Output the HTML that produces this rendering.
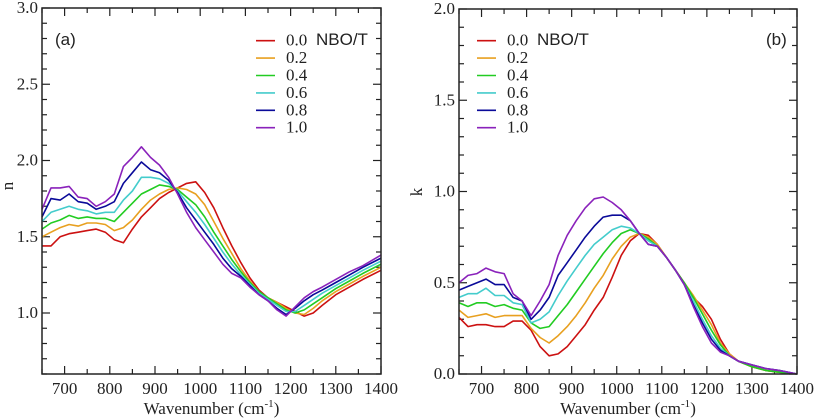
<!DOCTYPE html>
<html><head><meta charset="utf-8"><style>
html,body{margin:0;padding:0;background:#fff;}
svg{display:block;}
text.t{font-family:"Liberation Serif","Times New Roman",serif;font-size:17px;fill:#222;}
text.s{font-family:"Liberation Sans",Arial,sans-serif;font-size:17px;fill:#222;}
</style></head><body>
<svg id="c" width="816" height="420" viewBox="0 0 816 420"></svg>
<script>
const wn=[650,670,690,710,730,750,770,790,810,830,850,870,890,910,930,950,970,990,1010,1030,1050,1070,1090,1110,1130,1150,1170,1190,1210,1230,1250,1270,1300,1330,1360,1400];
const seriesLabels=["0.0","0.2","0.4","0.6","0.8","1.0"];
const colors=["#cc1111","#e8a020","#22cc22","#44cccc","#0a0a99","#8a22bb"];
const n00=[1.44,1.44,1.50,1.52,1.53,1.54,1.55,1.53,1.48,1.46,1.55,1.63,1.69,1.75,1.79,1.82,1.85,1.86,1.79,1.69,1.56,1.44,1.33,1.23,1.15,1.10,1.07,1.04,1.01,0.98,1.00,1.05,1.12,1.17,1.22,1.28];
const n02=[1.50,1.53,1.56,1.58,1.57,1.59,1.59,1.58,1.54,1.56,1.61,1.68,1.74,1.78,1.81,1.82,1.81,1.78,1.71,1.60,1.49,1.39,1.29,1.21,1.14,1.10,1.07,1.03,1.00,0.99,1.03,1.08,1.14,1.19,1.24,1.30];
const n04=[1.55,1.59,1.61,1.64,1.62,1.63,1.62,1.62,1.60,1.66,1.72,1.78,1.81,1.84,1.83,1.81,1.76,1.71,1.63,1.53,1.44,1.35,1.27,1.20,1.14,1.10,1.06,1.02,1.00,1.02,1.06,1.10,1.16,1.21,1.26,1.32];
const n06=[1.60,1.66,1.68,1.70,1.68,1.67,1.65,1.66,1.66,1.74,1.80,1.89,1.89,1.88,1.85,1.80,1.73,1.66,1.58,1.49,1.40,1.32,1.25,1.19,1.13,1.09,1.05,1.01,1.01,1.05,1.09,1.13,1.18,1.23,1.28,1.34];
const n08=[1.63,1.75,1.74,1.78,1.73,1.72,1.68,1.70,1.73,1.85,1.92,1.99,1.94,1.92,1.87,1.79,1.69,1.61,1.53,1.45,1.36,1.29,1.24,1.18,1.12,1.08,1.03,0.99,1.03,1.08,1.12,1.15,1.20,1.25,1.30,1.36];
const n10=[1.68,1.82,1.82,1.83,1.76,1.75,1.70,1.73,1.78,1.96,2.02,2.09,2.02,1.97,1.89,1.78,1.66,1.56,1.48,1.40,1.32,1.26,1.23,1.17,1.12,1.08,1.02,0.98,1.04,1.10,1.14,1.17,1.22,1.27,1.31,1.38];
const k00=[0.31,0.26,0.27,0.27,0.26,0.26,0.29,0.29,0.24,0.15,0.10,0.11,0.15,0.21,0.27,0.35,0.42,0.53,0.65,0.73,0.77,0.76,0.71,0.64,0.57,0.50,0.42,0.37,0.30,0.19,0.11,0.07,0.04,0.02,0.01,0.00];
const k02=[0.35,0.31,0.32,0.33,0.31,0.32,0.32,0.32,0.25,0.20,0.17,0.21,0.26,0.32,0.39,0.47,0.54,0.63,0.70,0.75,0.77,0.75,0.71,0.64,0.57,0.50,0.43,0.35,0.27,0.17,0.11,0.07,0.04,0.02,0.01,0.00];
const k04=[0.39,0.37,0.39,0.39,0.37,0.38,0.36,0.35,0.28,0.25,0.26,0.32,0.38,0.45,0.52,0.59,0.66,0.72,0.77,0.79,0.77,0.74,0.70,0.64,0.57,0.50,0.42,0.33,0.24,0.16,0.10,0.07,0.04,0.02,0.01,0.00];
const k06=[0.42,0.44,0.44,0.47,0.43,0.43,0.39,0.38,0.28,0.30,0.34,0.43,0.51,0.58,0.65,0.71,0.75,0.79,0.81,0.80,0.77,0.73,0.70,0.64,0.57,0.49,0.40,0.30,0.21,0.14,0.10,0.07,0.05,0.03,0.02,0.00];
const k08=[0.46,0.48,0.50,0.52,0.49,0.49,0.42,0.40,0.30,0.35,0.42,0.54,0.61,0.68,0.75,0.81,0.86,0.87,0.87,0.84,0.77,0.71,0.70,0.64,0.57,0.49,0.38,0.28,0.19,0.13,0.10,0.07,0.05,0.03,0.02,0.00];
const k10=[0.50,0.54,0.55,0.58,0.56,0.55,0.44,0.40,0.32,0.40,0.49,0.65,0.76,0.84,0.91,0.96,0.97,0.94,0.90,0.84,0.77,0.71,0.70,0.64,0.57,0.49,0.37,0.26,0.17,0.12,0.10,0.07,0.05,0.03,0.02,0.00];
const xTicks=[700,800,900,1000,1100,1200,1300,1400];
const nTicks=["1.0","1.5","2.0","2.5","3.0"];
const kTicks=["0.0","0.5","1.0","1.5","2.0"];

const NS="http://www.w3.org/2000/svg";
const SERIF='"Liberation Serif","Times New Roman",serif';
const SANS='"Liberation Sans",Arial,sans-serif';
const svg=document.getElementById('c');
function mk(tag,at,parent){const e=document.createElementNS(NS,tag);for(const k in at)e.setAttribute(k,at[k]);(parent||svg).appendChild(e);return e;}

function panel(p){
  const g=mk('g',{});
  
  
  const X=v=>p.x0+(v-650)/750*(p.x1-p.x0);
  const Y=v=>p.y1-(v-p.ymin)/(p.ymax-p.ymin)*(p.y1-p.y0);
  for(let v=650;v<=1400;v+=50){
    const major=v%100===0;const L=major?8:5;
    mk('line',{x1:X(v),x2:X(v),y1:p.y1,y2:p.y1-L,stroke:'#222','stroke-width':1.2},g);
    mk('line',{x1:X(v),x2:X(v),y1:p.y0,y2:p.y0+L,stroke:'#222','stroke-width':1.2},g);
  }
  for(let i=0;;i++){
    const v=p.ymin+i*0.1; if(v>p.ymax+1e-6)break;
    const major=Math.abs(v*2-Math.round(v*2))<1e-6;const L=major?8:5;
    mk('line',{x1:p.x0,x2:p.x0+L,y1:Y(v),y2:Y(v),stroke:'#222','stroke-width':1.2},g);
    mk('line',{x1:p.x1,x2:p.x1-L,y1:Y(v),y2:Y(v),stroke:'#222','stroke-width':1.2},g);
  }
  xTicks.forEach(v=>{const t=mk('text',{x:X(v),y:p.y1+20,'text-anchor':'middle',class:'t','font-family':SERIF,'font-size':17},g);t.textContent=v;
    
    });
  p.yt.forEach(s=>{const t=mk('text',{x:p.x0-4,y:Y(+s)+5,'text-anchor':'end',class:'t','font-family':SERIF,'font-size':17},g);t.textContent=s;
    
    });
  p.data.forEach((arr,i)=>{
    const d=arr.map((v,j)=>(j?'L':'M')+X(wn[j]).toFixed(1)+','+Y(v).toFixed(1)).join('');
    const l=mk('path',{d:d,fill:'none',stroke:colors[i],'stroke-width':1.6,'stroke-linejoin':'round'},g);
    
    
  });
  mk('rect',{x:p.x0,y:p.y0,width:p.x1-p.x0,height:p.y1-p.y0,fill:'none',stroke:'#222','stroke-width':1.5},g);
  seriesLabels.forEach((s,i)=>{
    const y=40.7+i*17.4;
    const l=mk('line',{x1:p.lx,x2:p.lx+19,y1:y,y2:y,stroke:colors[i],'stroke-width':1.6},g);
    
    
    const t=mk('text',{x:p.lx+30,y:y+5,class:'t','font-family':SERIF,'font-size':17},g);t.textContent=s;
    
    
  });
  const nb=mk('text',{x:p.lx+60,y:45,class:'s','font-family':SANS,'font-size':17},g);nb.textContent='NBO/T';
  
  
  const pl=mk('text',{x:p.px,y:45,class:'s','font-family':SANS,'font-size':17},g);pl.textContent=p.plabel;
  
  
  const xl=mk('text',{x:(p.x0+p.x1)/2,y:414,'text-anchor':'middle',class:'t','font-family':SERIF,'font-size':17},g);
  xl.innerHTML='Wavenumber (cm<tspan dy="-7" font-size="11">-1</tspan><tspan dy="7">)</tspan>';
  
  
  const yl=mk('text',{x:0,y:0,'text-anchor':'middle',class:'t','font-family':SERIF,'font-size':17,transform:`translate(${p.ylx},${p.yly}) rotate(-90)`},g);
  yl.textContent=p.ylab;
  
  
}
panel({name:'panel-a-refractive-index',x0:42,x1:381,y0:8,y1:374,ymin:0.6,ymax:3.0,yt:nTicks,data:[n00,n02,n04,n06,n08,n10],lx:256,px:55,plabel:'(a)',ylab:'n',ylx:13,yly:186});
panel({name:'panel-b-extinction-coefficient',x0:459,x1:797,y0:9,y1:374,ymin:0,ymax:2.0,yt:kTicks,data:[k00,k02,k04,k06,k08,k10],lx:477,px:766,plabel:'(b)',ylab:'k',ylx:422,yly:192});
</script>
</body></html>
